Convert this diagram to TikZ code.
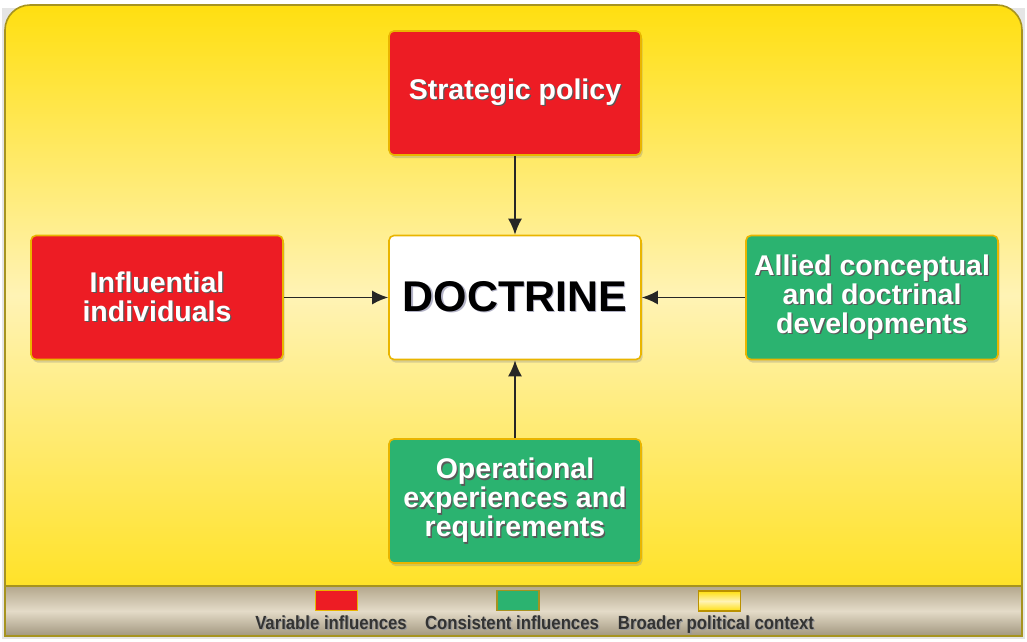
\documentclass[tikz,border=0pt]{standalone}
\usepackage{fontspec}
\setmainfont{Liberation Sans}
\newfontfamily\keyfont[FakeStretch=0.88]{Liberation Sans}
\usetikzlibrary{arrows.meta,shadows}

\definecolor{varred}{HTML}{ED1C24}
\definecolor{congreen}{HTML}{2BB370}
\definecolor{goldline}{HTML}{E9B500}
\definecolor{oliveline}{HTML}{A69320}
\definecolor{panelyellow}{HTML}{FFDF10}
\definecolor{panelpale}{HTML}{FFF3B5}
\definecolor{barbeige}{HTML}{E4DBC8}
\definecolor{bardark}{HTML}{B3A78C}

% text with a small offset shadow behind it
\newcommand{\shtext}[2][black!65]{\rlap{\kern1.3pt\raisebox{-1.3pt}{\color{#1}#2}}#2}

\tikzset{
  box/.style={draw=goldline, line width=1.6pt, rounded corners=5pt,
    minimum width=252pt, minimum height=124pt, align=center,
    font=\bfseries\fontsize{28.5}{29}\selectfont, text=white,
    drop shadow={opacity=0.3, shadow xshift=1.5pt, shadow yshift=-3pt}},
  redbox/.style={box, fill=varred},
  greenbox/.style={box, fill=congreen},
  link/.style={-{Latex[length=16pt,width=14pt]}, line width=1.8pt, black!85},
  keybox/.style={line width=1.2pt, minimum width=42pt, minimum height=20pt, inner sep=0pt},
  keytext/.style={font=\keyfont\bfseries\fontsize{19}{19}\selectfont, text=black!80, anchor=base}
}

\begin{document}
\begin{tikzpicture}[x=1pt,y=1pt]
\useasboundingbox (0,0) rectangle (1027,-641);
% yellow context panel and the legend strip under it
\fill[black!10] (2,-8) rectangle (1025,-639);
\shade[top color=panelyellow, bottom color=panelyellow!85!panelpale, middle color=panelpale]
  (5,-586) -- (5,-30) arc[start angle=180, end angle=90, radius=25] -- (997,-5)
  arc[start angle=90, end angle=0, radius=25] -- (1022,-586) -- cycle;
\shade[top color=bardark, bottom color=bardark!90!black, middle color=barbeige]
  (5,-586) rectangle (1022,-636);
\draw[oliveline, line width=1.6pt]
  (5,-636) -- (5,-30) arc[start angle=180, end angle=90, radius=25] -- (997,-5)
  arc[start angle=90, end angle=0, radius=25] -- (1022,-636) -- cycle;
\draw[oliveline, line width=1.2pt] (5,-586) -- (1022,-586);

% the five boxes
\node[redbox] (policy) at (515,-93) {\shtext{Strategic policy}};
\node[box, fill=white, text=black, font=\bfseries\fontsize{43}{43}\selectfont]
  (doctrine) at (515,-297.5) {\shtext[blue!25!black!30]{DOCTRINE}};
\node[redbox] (people) at (157,-297.5) {\shtext{Influential}\\\shtext{individuals}};
\node[greenbox] (allied) at (872,-297.5)
  {\shtext{Allied conceptual}\\\shtext{and doctrinal}\\\shtext{developments}};
\node[greenbox] (ops) at (515,-501)
  {\shtext{Operational}\\\shtext{experiences and}\\\shtext{requirements}};

\draw[link] (policy) -- (doctrine);
\draw[link] (people) -- (doctrine);
\draw[link] (allied) -- (doctrine);
\draw[link] (ops) -- (doctrine);

% legend
\node[keybox, draw=goldline, fill=varred] (keyred) at (336.5,-600.5) {};
\node[keybox, draw=oliveline, fill=congreen] (keygreen) at (518,-600.5) {};
\node[keybox, draw=goldline!80!black, top color=panelyellow, bottom color=panelyellow,
  middle color=panelpale] (keyyellow) at (719.5,-601) {};
\node[keytext] (keyredtext) at (331,-629) {\shtext[black!40]{Variable influences}};
\node[keytext] (keygreentext) at (512,-629) {\shtext[black!40]{Consistent influences}};
\node[keytext] (keyyellowtext) at (716,-629) {\shtext[black!40]{Broader political context}};
\end{tikzpicture}
\end{document}
